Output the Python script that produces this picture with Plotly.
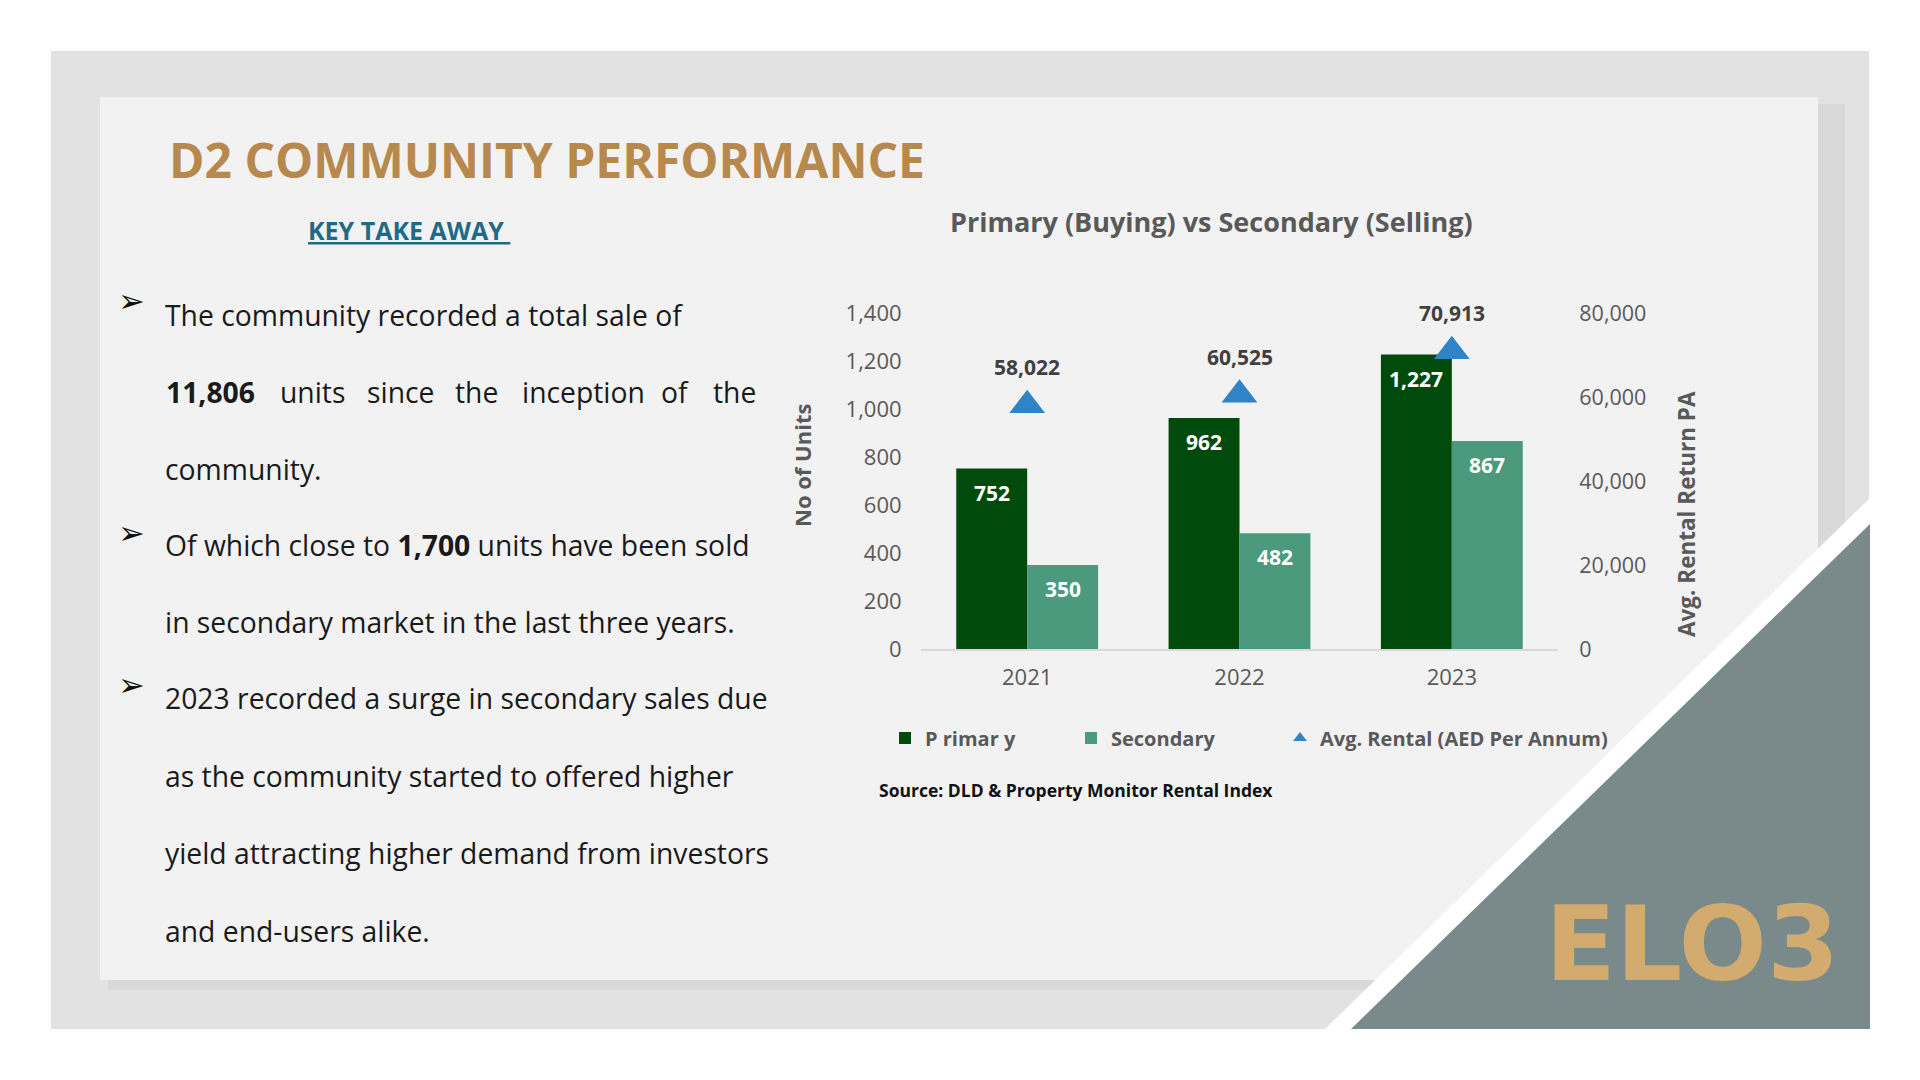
import plotly.graph_objects as go

# ---------------- data ----------------
years = ["2021", "2022", "2023"]
primary = [752, 962, 1227]
secondary = [350, 482, 867]
rental = [58022, 60525, 70913]

left_ticks = [0, 200, 400, 600, 800, 1000, 1200, 1400]
right_ticks = [0, 20000, 40000, 60000, 80000]

# page body has an 8px margin; figure sized to fit the 1920x1080 viewport
OFF = 8
W, H = 1920 - 2 * OFF, 1080 - 2 * OFF
def px(x):
    return (x - OFF) / W
def py(y):
    return 1 - (y - OFF) / H

FONT = "Open Sans"
GRAY = "#595959"
C_PRIMARY = "#004A0B"
C_SECOND = "#4B9A7E"
C_RENT = "#2F84C8"

fig = go.Figure()

fig.add_trace(go.Bar(
    x=years, y=primary, name="P rimar y", legend="legend",
    marker=dict(color=C_PRIMARY, line=dict(width=0)),
))
fig.add_trace(go.Bar(
    x=years, y=secondary, name="Secondary", legend="legend2",
    marker=dict(color=C_SECOND, line=dict(width=0)),
))
fig.add_trace(go.Scatter(
    x=years, y=rental, name="Avg. Rental (AED Per Annum)", yaxis="y2", legend="legend3",
    mode="markers",
    marker=dict(symbol="triangle-up", size=31, color=C_RENT),
))

annotations = []
# data labels (positioned on the axes by category index and value)
for i in range(len(years)):
    annotations.append(dict(x=i, y=primary[i], xref="x", yref="y", xshift=-35.5, yshift=-24,
                            xanchor="center", yanchor="middle",
                            text=f"<b>{primary[i]:,}</b>", showarrow=False,
                            font=dict(family=FONT, size=21, color="white")))
    annotations.append(dict(x=i, y=secondary[i], xref="x", yref="y", xshift=35.5, yshift=-24,
                            xanchor="center", yanchor="middle",
                            text=f"<b>{secondary[i]:,}</b>", showarrow=False,
                            font=dict(family=FONT, size=21, color="white")))
    annotations.append(dict(x=i, y=rental[i], xref="x", yref="y2", yshift=38,
                            xanchor="center", yanchor="middle",
                            text=f"<b>{rental[i]:,}</b>", showarrow=False,
                            font=dict(family=FONT, size=21, color="#404040")))

def label(x, y, text, size, color, xanchor="left", angle=0, family=FONT):
    annotations.append(dict(x=px(x), y=py(y), xref="paper", yref="paper", xanchor=xanchor,
                            yanchor="middle", text=text, textangle=angle, showarrow=False,
                            font=dict(family=family, size=size, color=color)))

# axis titles
label(802, 466, "<b>No of Units</b>", 22, GRAY, "center", -90)
label(1686, 514, "<b>Avg. Rental Return PA</b>", 22.5, GRAY, "center", -90)
# chart title
label(1211, 222, "<b>Primary (Buying) vs Secondary (Selling)</b>", 27, GRAY, "center")
# source
label(877, 790, "<b>Source: DLD &amp; Property Monitor Rental Index</b>", 17.5, "#111111")
# slide title & subtitle
label(167, 159, "<b>D2 COMMUNITY PERFORMANCE</b>", 48, "#B8894D")
label(306, 230, "<b><u>KEY TAKE AWAY </u></b>", 25, "#1F6B87")

# body text
BODY_SIZE = 28.3
BODY_COLOR = "#1a1a1a"
lines = [
    (315, "The community recorded a total sale of"),
    (469, "community."),
    (545, "Of which close to <b>1,700</b> units have been sold"),
    (622, "in secondary market in the last three years."),
    (698, "2023 recorded a surge in secondary sales due"),
    (776, "as the community started to offered higher"),
    (853, "yield attracting higher demand from investors"),
    (931, "and end-users alike."),
]
for yy, t in lines:
    label(163, yy, t, BODY_SIZE, BODY_COLOR)
# justified line
words = [(164, "<b>11,806</b>"), (278, "units"), (365, "since"), (453, "the"),
         (520, "inception"), (659, "of"), (711, "the")]
for xx, t in words:
    label(xx, 392, t, BODY_SIZE, BODY_COLOR)
# bullets
for yy in (301, 533, 685):
    label(131, yy, "\u27a2", 32, "#111111", "center", family="DejaVu Sans")
# logo
label(1692, 944, "<b>ELO3</b>", 104, "#D3AB6F", "center", family="DejaVu Sans")

def rect(x0, y0, x1, y1, color):
    return dict(type="rect", xref="paper", yref="paper", x0=px(x0), x1=px(x1), y0=py(y1), y1=py(y0),
                fillcolor=color, line=dict(width=0), layer="below")

def poly(pts, color):
    d = "M " + " L ".join(f"{px(a):.5f},{py(b):.5f}" for a, b in pts) + " Z"
    return dict(type="path", xref="paper", yref="paper", path=d, fillcolor=color,
                line=dict(width=0), layer="below")

shapes = [
    rect(51, 51, 1869, 1029, "#e2e2e2"),
    rect(108, 104, 1845, 990, "#d9d9d9"),
    rect(100, 97, 1818, 980, "#f2f2f2"),
    poly([(1325, 1029), (1870, 498), (1870, 1029)], "#ffffff"),
    poly([(1351, 1029), (1870, 524), (1870, 1029)], "#7a8a8a"),
]

LEG_FONT = dict(family=FONT, size=20, color=GRAY, weight="bold")
def leg(xc):
    return dict(orientation="h", x=px(xc - 20), xanchor="left", y=py(738), yanchor="middle",
                font=LEG_FONT, itemsizing="constant", bgcolor="rgba(0,0,0,0)", borderwidth=0)

fig.update_layout(
    width=W, height=H,
    margin=dict(l=0, r=0, t=0, b=0, autoexpand=False),
    paper_bgcolor="white",
    plot_bgcolor="rgba(0,0,0,0)",
    font=dict(family=FONT, color=GRAY),
    barmode="group", bargap=0.332, bargroupgap=0,
    showlegend=True,
    legend=leg(905),
    legend2=leg(1091),
    legend3=leg(1300),
    xaxis=dict(domain=[px(921), px(1558)], type="category", range=[-0.5, 2.5], automargin=False,
               showline=True, linecolor="#d9d9d9",
               linewidth=1.5, showgrid=False, zeroline=False, ticks="outside", ticklen=8,
               tickcolor="rgba(0,0,0,0)", tickfont=dict(family=FONT, size=22, color=GRAY)),
    yaxis=dict(domain=[py(649), py(313)], range=[0, 1400], tickvals=left_ticks, tickformat=",",
               automargin=False,
               showgrid=False, zeroline=False, showline=False, ticks="outside", ticklen=14,
               tickcolor="rgba(0,0,0,0)", tickfont=dict(family=FONT, size=22, color=GRAY)),
    yaxis2=dict(overlaying="y", side="right", range=[0, 80000], tickvals=right_ticks, tickformat=",",
                automargin=False,
                showgrid=False, zeroline=False, showline=False, ticks="outside", ticklen=16,
                tickcolor="rgba(0,0,0,0)", tickfont=dict(family=FONT, size=21.5, color=GRAY)),
    shapes=shapes,
    annotations=annotations,
)

fig.write_html("out.html")
